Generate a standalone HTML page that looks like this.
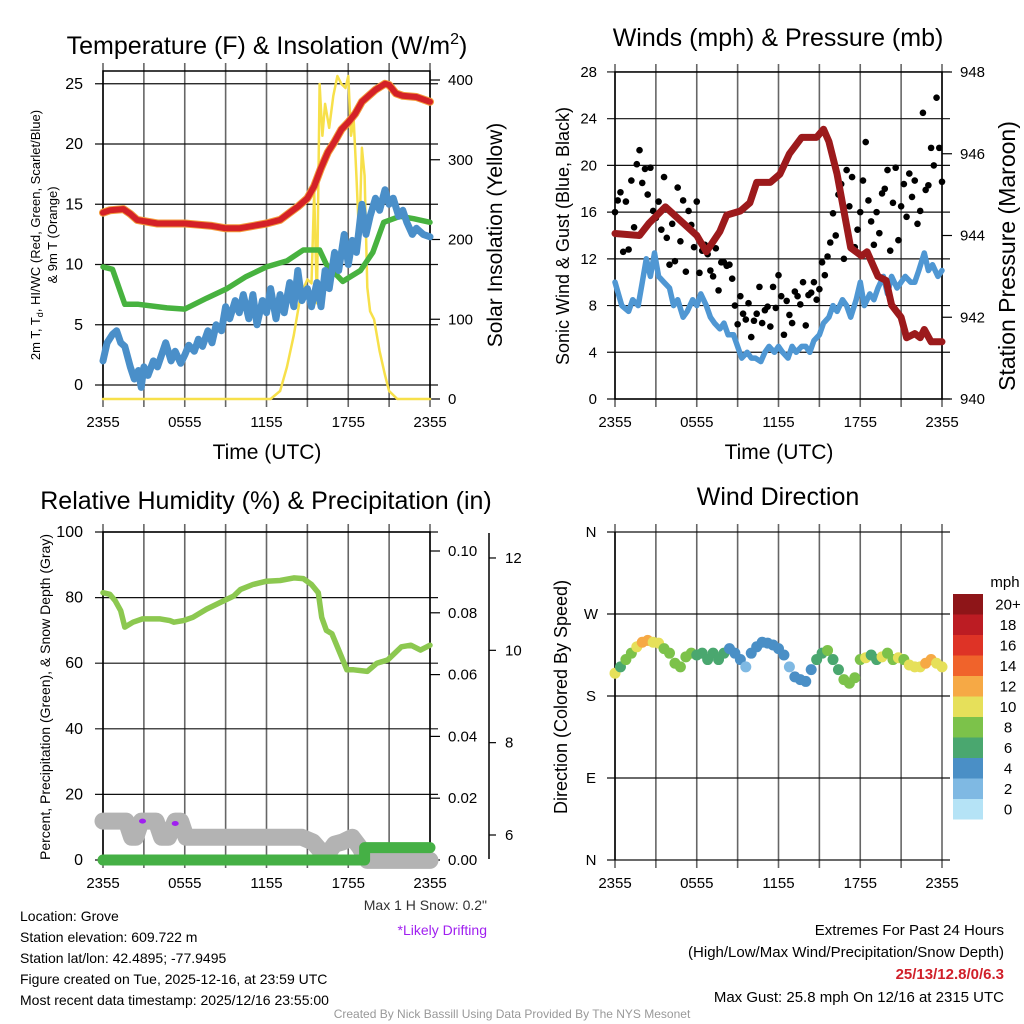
<!DOCTYPE html>
<html><head><meta charset="utf-8"><style>
html,body{margin:0;padding:0;background:#fff;}
svg{display:block;font-family:"Liberation Sans",Arial,sans-serif;}
</style></head><body>
<svg id="fig" width="1024" height="1024" viewBox="0 0 1024 1024" xmlns="http://www.w3.org/2000/svg">
<rect x="0" y="0" width="1024" height="1024" fill="#fff"/>
<g id="p1"></g>
<g id="p2"></g>
<g id="p3"></g>
<g id="p4"></g>
<text x="267" y="54" font-size="25" text-anchor="middle">Temperature (F) &amp; Insolation (W/m<tspan dy="-10" font-size="16">2</tspan><tspan dy="10">)</tspan></text>
<text x="778" y="46" font-size="25" text-anchor="middle">Winds (mph) &amp; Pressure (mb)</text>
<text x="266" y="509" font-size="25" text-anchor="middle">Relative Humidity (%) &amp; Precipitation (in)</text>
<text x="778" y="505" font-size="25" text-anchor="middle">Wind Direction</text>
<text x="267" y="459" font-size="21" text-anchor="middle">Time (UTC)</text>
<text x="779" y="459" font-size="21" text-anchor="middle">Time (UTC)</text>
<text transform="translate(40,235) rotate(-90)" font-size="13" text-anchor="middle">2m T, T<tspan font-size="9" dy="3">d</tspan><tspan dy="-3">, HI/WC (Red, Green, Scarlet/Blue)</tspan></text>
<text transform="translate(57,235) rotate(-90)" font-size="13" text-anchor="middle">&amp; 9m T (Orange)</text>
<text transform="translate(502,235) rotate(-90)" font-size="21" text-anchor="middle">Solar Insolation (Yellow)</text>
<text transform="translate(569,236) rotate(-90)" font-size="18" text-anchor="middle">Sonic Wind &amp; Gust (Blue, Black)</text>
<text transform="translate(1015,256) rotate(-90)" font-size="23" text-anchor="middle">Station Pressure (Maroon)</text>
<text transform="translate(50,697) rotate(-90)" font-size="14" text-anchor="middle">Percent, Precipitation (Green), &amp; Snow Depth (Gray)</text>
<text transform="translate(567,697) rotate(-90)" font-size="18" text-anchor="middle">Direction (Colored By Speed)</text>
<text x="1005" y="587" font-size="15" text-anchor="middle">mph</text>
<text x="487" y="910" font-size="14" fill="#333" text-anchor="end">Max 1 H Snow: 0.2"</text>
<text x="487" y="935" font-size="14" fill="#a020f0" text-anchor="end">*Likely Drifting</text>
<g font-size="14">
<text x="20" y="921">Location: Grove</text>
<text x="20" y="942">Station elevation: 609.722 m</text>
<text x="20" y="963">Station lat/lon: 42.4895; -77.9495</text>
<text x="20" y="984">Figure created on Tue, 2025-12-16, at 23:59 UTC</text>
<text x="20" y="1005">Most recent data timestamp: 2025/12/16 23:55:00</text>
</g>
<g font-size="15" text-anchor="end">
<text x="1004" y="935">Extremes For Past 24 Hours</text>
<text x="1004" y="957">(High/Low/Max Wind/Precipitation/Snow Depth)</text>
<text x="1004" y="979" font-weight="bold" fill="#d0202a">25/13/12.8/0/6.3</text>
<text x="1004" y="1002">Max Gust: 25.8 mph On 12/16 at 2315 UTC</text>
</g>
<text x="512" y="1018" font-size="12" fill="#999" text-anchor="middle">Created By Nick Bassill Using Data Provided By The NYS Mesonet</text>
</svg>
<script>
// ---------- data ----------
const xTickLabels = ["2355","0555","1155","1755","2355"];
const tempTicks = [0,5,10,15,20,25];
const solarTicks = [0,100,200,300,400];
const windTicks = [0,4,8,12,16,20,24,28];
const pressTicks = [940,942,944,946,948];
const rhTicks = [0,20,40,60,80,100];
const precipTicks = ["0.00","0.02","0.04","0.06","0.08","0.10"];
const snowTicks = [6,8,10,12];
const dirTicks = ["N","E","S","W","N"];
const legendLabels = ["0","2","4","6","8","10","12","14","16","18","20+"];
const legendColors = ["#b5e3f6","#7fb9e3","#4a8fc6","#4aa76f","#7cc24a","#e6e05a","#f6a945","#f0632b","#de3326","#bc1c23","#8e1518"];

const tempHours = [0,0.5,1.5,2,2.5,4,6,7,8,9,10,11,12,13,13.7,14.3,15,15.5,16,16.5,17,17.5,18,18.5,19,19.5,20,20.7,21,21.5,22,23,24];
const tempValues = [14.3,14.5,14.6,14.2,13.7,13.4,13.4,13.3,13.2,13.0,13.0,13.2,13.4,13.7,14.3,14.8,15.5,16.5,18.0,19.3,20.2,21.2,21.8,22.5,23.5,24.0,24.5,25.0,24.9,24.2,24.0,23.9,23.5];
const dewHours = [0,0.7,1.6,2.6,4.7,6,7.6,9.1,10.5,12,13.5,14.7,15.9,16.4,17.6,18.9,19.8,20.6,21.8,22.8,24];
const dewValues = [9.8,9.6,6.7,6.7,6.4,6.3,7.2,8.0,9.0,9.8,10.3,11.2,11.2,10.0,8.6,9.5,11.0,13.5,14.0,13.8,13.5];
const chillHours = [0,0.3,0.7,1,1.3,1.6,2,2.3,2.6,2.8,3,3.3,3.7,4,4.3,4.6,5,5.3,5.7,6,6.3,6.7,7,7.3,7.7,8,8.3,8.7,9,9.3,9.7,10,10.3,10.7,11,11.3,11.7,12,12.3,12.7,13,13.3,13.7,14,14.3,14.6,15,15.3,15.7,16,16.3,16.6,17,17.3,17.7,18,18.3,18.6,19,19.3,19.6,20,20.3,20.7,21,21.3,21.7,22,22.3,22.7,23,23.5,24];
const chillValues = [2.0,3.5,4.2,4.5,3.5,3.2,1.5,0.5,1.2,-0.2,1.5,0.8,2.0,1.5,2.5,3.5,2.0,2.8,1.8,2.5,3.3,2.8,3.8,3.2,4.5,3.5,5.0,4.5,6.5,5.5,7.0,6.0,7.5,5.5,7.5,5.0,7.0,6.0,8.0,5.5,7.5,6.0,8.5,6.5,9.5,7.0,8.0,6.5,8.5,6.5,9.5,8.0,11.0,9.5,12.5,10.0,12.0,11.0,15.0,12.5,14.0,15.5,14.5,16.2,15.0,15.5,14.0,14.5,13.5,12.5,13.0,12.5,12.3];
const solarHours = [0,12.3,13,13.5,14,14.5,15,15.3,15.5,15.7,15.9,16.1,16.3,16.6,16.9,17.2,17.5,17.8,18,18.2,18.4,18.6,18.8,19,19.2,19.4,19.6,19.9,20.3,20.7,21,21.3,21.6,24];
const solarValues = [0,0,10,40,80,130,150,145,260,120,395,330,370,340,380,405,395,390,405,330,350,280,200,315,280,140,110,100,60,30,10,5,0,0];

const sonicHours = [0,0.5,1,1.3,1.7,2,2.3,2.6,2.9,3.2,3.6,4,4.3,4.6,5,5.3,5.7,6,6.3,6.7,7,7.3,7.7,8,8.3,8.7,9,9.3,9.7,10,10.3,10.7,11,11.3,11.7,12,12.3,12.7,13,13.3,13.7,14,14.3,14.6,15,15.3,15.7,16,16.3,16.7,17,17.3,17.7,18,18.3,18.7,19,19.3,19.7,20,20.3,20.7,21,21.3,21.7,22,22.3,22.7,23,23.3,23.7,24];
const sonicValues = [10,8,7.5,8.5,8,10,12,10.5,12.5,10.5,10,9.5,8,8.5,7,7.5,8.5,8,9,8,7,6.5,6,6.5,5.5,5.5,4.5,3.5,4,3.5,3.5,3.2,4,4.5,4,4.5,4,3.5,4.5,4,4.5,4.5,4,5,5.5,6.5,7,8,7.5,8.5,8,7,8.5,10,8,9,8.5,9.5,10.5,9,10.5,9.5,10,10.5,10,10,11,12.5,11,11.5,10.5,11];
const gustValues = [16.0,17.0,17.7,12.6,16.9,12.8,18.7,14.7,20.1,21.3,18.5,19.7,17.5,19.8,16.1,15.5,16.9,14.5,19.0,13.8,11.5,15.0,11.8,18.1,13.5,17.0,10.9,16.1,14.9,13.0,16.9,10.8,12.7,13.2,12.4,11.0,10.5,12.9,9.3,11.7,11.7,11.4,11.5,10.3,8.0,6.4,8.8,7.3,6.8,8.2,5.3,6.7,7.3,9.6,6.5,7.6,7.9,6.2,9.6,7.8,10.6,8.8,5.5,8.4,7.2,6.5,9.2,8.8,8.1,10.0,6.3,8.9,9.1,10.0,8.5,9.4,11.7,10.6,12.2,13.4,15.9,14.0,17.5,18.4,12.0,19.6,16.5,19.0,13.0,14.5,16.0,18.7,22.0,17.0,15.2,13.2,16.0,14.2,17.6,18.0,19.6,12.7,16.8,19.8,13.6,16.5,18.4,15.6,19.3,17.3,18.7,15.0,16.1,24.5,17.9,18.3,21.5,20.0,25.8,21.5,18.6];
const pressHours = [0,1.8,2.5,3.7,6.0,6.7,7.7,8.2,9.2,9.9,10.4,11.4,12.1,12.8,13.7,14.8,15.3,15.7,16.3,16.8,17.3,18.1,18.5,19.3,19.9,20.3,21.0,21.4,22.0,22.4,22.7,23.2,24];
const pressValues = [944.05,944.0,944.3,944.7,944.0,943.6,944.1,944.5,944.6,944.8,945.3,945.3,945.5,946.0,946.4,946.4,946.6,946.3,945.5,944.6,943.7,943.5,943.6,943.0,942.9,942.3,942.0,941.5,941.6,941.5,941.7,941.4,941.4];

const rhHours = [0,0.5,0.9,1.3,1.6,2.2,2.9,4.2,4.9,5.2,5.9,6.6,7.6,8.6,9.6,10.1,11.0,12.0,13.0,14.0,14.7,15.3,15.8,16.05,16.4,16.8,17.4,17.9,18.4,19.4,20.1,20.9,21.9,22.6,23.3,24];
const rhValues = [81.5,81,79,76,71,72.5,73.5,73.5,73,72.5,73,74,76.5,78.5,80.5,82.5,84,85,85.2,86,85.8,84,81.5,74,70,69,63,58,58,57.5,60,61,65,65.5,64,65.5];
const snowHours = [0,1.7,2.1,2.4,2.8,3.9,4.3,4.8,5.3,5.7,6.1,14.6,15.4,16.0,16.5,17.0,17.6,18.3,18.8,19.4,24];
const snowValues = [6.3,6.3,5.95,5.95,6.3,6.3,5.95,5.95,6.3,6.3,5.95,5.95,5.85,5.65,5.6,5.8,5.85,5.95,5.75,5.45,5.45];
const precipHours = [0,19.2,19.2,24];
const precipValues = [0,0,0.004,0.004];
const driftHours = [2.9,5.3];
const driftValues = [6.3,6.25];

const dirHours = [0,0.4,0.8,1.2,1.6,2.0,2.4,2.8,3.2,3.6,4.0,4.4,4.8,5.2,5.6,6.0,6.4,6.8,7.2,7.6,8.0,8.4,8.8,9.2,9.6,10.0,10.4,10.8,11.2,11.6,12.0,12.4,12.8,13.2,13.6,14.0,14.4,14.8,15.2,15.6,16.0,16.4,16.8,17.2,17.6,18.0,18.4,18.8,19.2,19.6,20.0,20.4,20.8,21.2,21.6,22.0,22.4,22.8,23.2,23.6,24.0];
const dirValues = [205,212,220,227,234,239,241,239,238,232,227,216,212,223,227,225,227,220,227,220,227,232,227,220,212,227,234,239,238,236,232,225,212,201,198,196,209,220,227,230,220,209,198,194,200,220,222,225,220,223,227,220,222,220,214,212,212,216,220,216,212];
const dirSpeeds = [10,7,8,8,10,12,12,11,10,9,8,8,8,8,8,7,6,7,6,6,7,5,5,4,3,5,4,5,5,5,4,5,3,5,5,5,5,7,7,8,7,7,8,9,8,9,11,7,7,10,9,8,11,9,10,11,10,13,12,11,11];

// ---------- helpers ----------
const NS = "http://www.w3.org/2000/svg";
function mk(parent, tag, attrs){
  const e = document.createElementNS(NS, tag);
  for (const k in attrs) e.setAttribute(k, attrs[k]);
  parent.appendChild(e);
  return e;
}
function xAt(x0, h){ return x0 + h * 13.625; }
function pathD(hs, vs, x0, yf){
  let d = "";
  for (let i = 0; i < hs.length; i++) d += (i ? "L" : "M") + xAt(x0, hs[i]).toFixed(1) + " " + yf(vs[i]).toFixed(1);
  return d;
}
function drawGrid(g, x0, yLines){
  for (let i = 0; i <= 8; i++) {
    const x = xAt(x0, i * 3);
    const l = mk(g, "line", {x1:x, x2:x, y1:yLines[0]-8, y2:yLines[1]+8, stroke:"#666", "stroke-width":1.6});
    
    
  }
  for (let i = 0; i < xTickLabels.length; i++) {
    const t = mk(g, "text", {x: xAt(x0, i*6), y: yLines[1]+28, "font-size":15, "text-anchor":"middle"});
    t.textContent = xTickLabels[i];
    
    
  }
}
function hLine(g, x0, y, name){
  const l = mk(g, "line", {x1:x0-8, x2:x0+335, y1:y, y2:y, stroke:"#111", "stroke-width":1.2});
  
  
}
function label(g, x, y, txt, anchor, name, size){
  const t = mk(g, "text", {x:x, y:y+5, "font-size":size||15, "text-anchor":anchor});
  t.textContent = txt;
  
  
}
function frame(g, x0, yt, yb, name){
  const r = mk(g, "rect", {x:x0, y:yt, width:327, height:yb-yt, fill:"none", stroke:"#000", "stroke-width":1.5});
  
  
}
function series(g, d, color, w, name){
  const p = mk(g, "path", {d:d, fill:"none", stroke:color, "stroke-width":w, "stroke-linejoin":"round", "stroke-linecap":"round"});
  
  
  return p;
}

// ---------- panel 1 ----------
const p1 = document.getElementById("p1");
const yT = v => 385 - v * 12.05;
const yS = v => 399 - v * 0.7975;
drawGrid(p1, 103, [71, 399]);
tempTicks.forEach(v => { hLine(p1, 103, yT(v), 'temp-gridline'); label(p1, 83, yT(v), String(v), "end", 'temp-tick-label', 16); });
solarTicks.forEach(v => {
  const l = mk(p1, "line", {x1:430, x2:440, y1:yS(v), y2:yS(v), stroke:"#000", "stroke-width":1.2});
  
  
  label(p1, 448, yS(v), String(v), "start", 'solar-tick-label', 15);
});
frame(p1, 103, 71, 399, 'temp-plot-frame');
series(p1, pathD(solarHours, solarValues, 103, yS), "#f7e04a", 2.5, 'solar-line');
series(p1, pathD(dewHours, dewValues, 103, yT), "#47b23f", 5.5, 'dewpoint-line');
series(p1, pathD(chillHours, chillValues, 103, yT), "#4a8fc9", 7, 'windchill-line');
series(p1, pathD(tempHours, tempValues, 103, yT), "#f39a3b", 8, 'temp-9m-line');
series(p1, pathD(tempHours, tempValues, 103, yT), "#d42127", 6, 'temp-2m-line');

// ---------- panel 2 ----------
const p2 = document.getElementById("p2");
const yW = v => 399 - v * 11.68;
const yP = v => 399 - (v - 940) * 40.875;
drawGrid(p2, 615, [72, 399]);
windTicks.forEach(v => { hLine(p2, 615, yW(v), 'wind-gridline'); label(p2, 597, yW(v), String(v), "end", 'wind-tick-label', 15); });
pressTicks.forEach(v => {
  const l = mk(p2, "line", {x1:942, x2:952, y1:yP(v), y2:yP(v), stroke:"#000", "stroke-width":1.2});
  
  
  label(p2, 960, yP(v), String(v), "start", 'pressure-tick-label', 15);
});
frame(p2, 615, 72, 399, 'wind-plot-frame');
series(p2, pathD(sonicHours, sonicValues, 615, yW), "#4f97d3", 5.5, 'sonic-wind-line');
gustValues.forEach((v, i) => {
  const c = mk(p2, "circle", {cx: xAt(615, i * 0.2), cy: yW(v), r: 3.3, fill:"#000"});
  
  
});
series(p2, pathD(pressHours, pressValues, 615, yP), "#9c1a1c", 7, 'pressure-line');

// ---------- panel 3 ----------
const p3 = document.getElementById("p3");
const yRH = v => 860 - v * 3.28;
const yPr = v => 860 - v * 3090;
const ySn = v => 835 - (v - 6) * 46.17;
drawGrid(p3, 103, [532, 860]);
rhTicks.forEach(v => { hLine(p3, 103, yRH(v), 'rh-gridline'); label(p3, 83, yRH(v), String(v), "end", 'rh-tick-label', 16); });
precipTicks.forEach(s => {
  const y = yPr(parseFloat(s));
  const l = mk(p3, "line", {x1:430, x2:440, y1:y, y2:y, stroke:"#000", "stroke-width":1.2});
  
  
  label(p3, 448, y, s, "start", 'precip-tick-label', 15);
});
const ax2 = mk(p3, "line", {x1:489, x2:489, y1:533, y2:859, stroke:"#000", "stroke-width":1.5});


snowTicks.forEach(v => {
  const l = mk(p3, "line", {x1:489, x2:496, y1:ySn(v), y2:ySn(v), stroke:"#000", "stroke-width":1.2});
  
  
  label(p3, 505, ySn(v), String(v), "start", 'snow-tick-label', 15);
});
frame(p3, 103, 532, 860, 'rh-plot-frame');
series(p3, pathD(snowHours, snowValues, 103, ySn), "#b3b3b3", 17, 'snow-depth-line');
series(p3, pathD(precipHours, precipValues, 103, yPr), "#45b045", 11, 'precip-line');
series(p3, pathD(rhHours, rhValues, 103, yRH), "#8cc850", 5.5, 'rh-line');
driftHours.forEach((h, i) => {
  const e = mk(p3, "ellipse", {cx: xAt(103, h), cy: ySn(driftValues[i]), rx: 3.5, ry: 2.5, fill:"#a020f0"});
  
  
});

// ---------- panel 4 ----------
const p4 = document.getElementById("p4");
const yD = d => 860 - d * 0.9111;
drawGrid(p4, 615, [532, 860]);
dirTicks.forEach((s, i) => { hLine(p4, 615, yD(i * 90), 'direction-gridline'); label(p4, 591, yD(i * 90), s, "middle", 'direction-tick-label', 15); });
const fr4 = mk(p4, "line", {x1:615, x2:615, y1:532, y2:860, stroke:"#000", "stroke-width":1.5});


dirValues.forEach((d, i) => {
  const bin = Math.min(10, Math.floor(dirSpeeds[i] / 2));
  const c = mk(p4, "circle", {cx: xAt(615, dirHours[i]), cy: yD(d), r: 5.5, fill: legendColors[bin]});
  
  
});
legendColors.forEach((col, i) => {
  const y = 799 - i * 20.5;
  const r = mk(p4, "rect", {x:953, y:y, width:30, height:20.5, fill:col});
  
  
  label(p4, 1008, y + 10.5, legendLabels[i], "middle", 'legend-label', 15);
});
</script>
</body></html>
